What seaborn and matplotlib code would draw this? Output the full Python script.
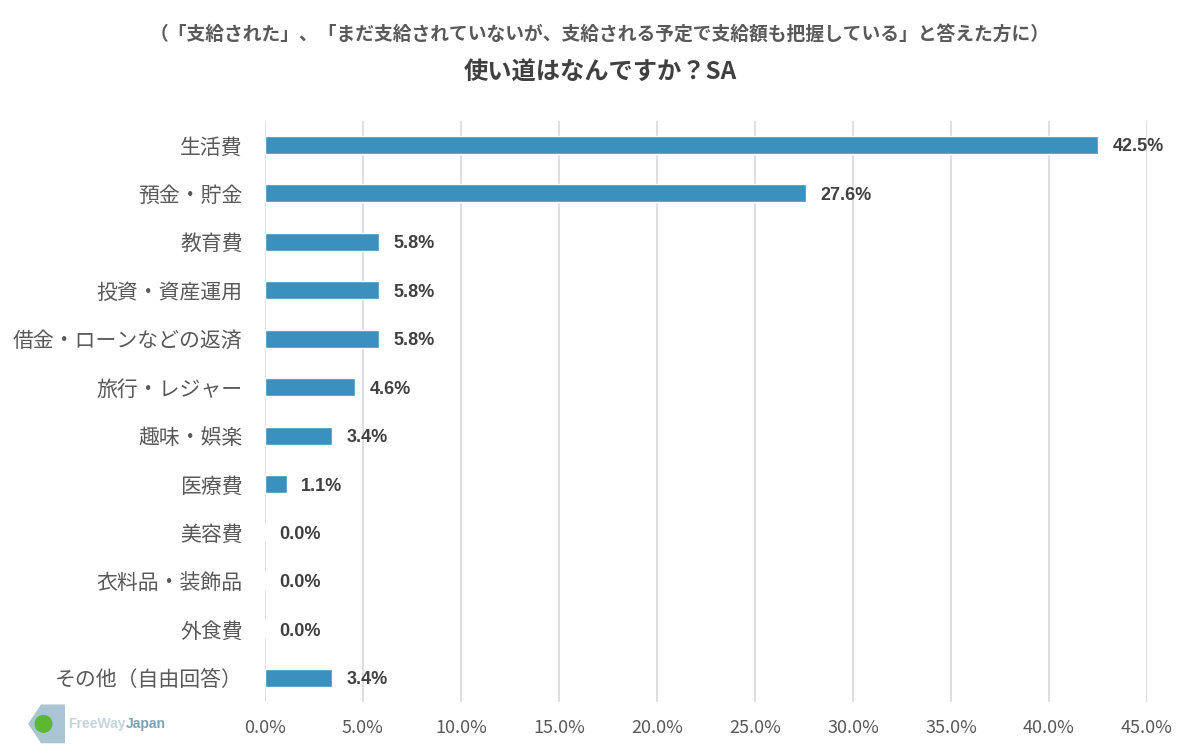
import numpy as np
import pandas as pd
import matplotlib
matplotlib.use("Agg")
import matplotlib.pyplot as plt
import seaborn as sns

categories = ["生活費", "預金・貯金", "教育費", "投資・資産運用", "借金・ローンなどの返済",
              "旅行・レジャー", "趣味・娯楽", "医療費", "美容費", "衣料品・装飾品",
              "外食費", "その他（自由回答）"]
values = [42.5, 27.6, 5.8, 5.8, 5.8, 4.6, 3.4, 1.1, 0.0, 0.0, 0.0, 3.4]
xticks = [0, 5, 10, 15, 20, 25, 30, 35, 40, 45]

subtitle = "（「支給された」、「まだ支給されていないが、支給される予定で支給額も把握している」と答えた方に）"
title = "使い道はなんですか？SA"

sns.set_theme(style="white")
plt.rcParams["font.family"] = ["Noto Sans CJK JP", "DejaVu Sans"]

df = pd.DataFrame({"cat": categories, "val": values})

fig = plt.figure(figsize=(12, 7.56), dpi=100)
ax = fig.add_axes([0.2208, 0.0714, 0.735, 0.769])

sns.barplot(data=df, x="val", y="cat", color="#3a91bd", saturation=1,
            width=0.37, orient="h", ax=ax, zorder=3)

ax.set_xlim(0, 45)
ax.set_xticks(xticks)
ax.set_xticklabels([f"{t:.1f}%" for t in xticks], fontsize=13, color="#595959")
ax.tick_params(axis="y", labelsize=15, labelcolor="#595959", length=0, pad=16)
ax.tick_params(axis="x", length=0, pad=12)
ax.grid(axis="x", color="#d9d9d9", linewidth=1.2, zorder=0)
for s in ax.spines.values():
    s.set_visible(False)
ax.set_xlabel("")
ax.set_ylabel("")

for i, v in enumerate(values):
    ax.text(v + 0.75, i, f"{v:.1f}%", va="center_baseline", ha="left", fontsize=13,
            fontweight="bold", color="#404040",
            family=["Liberation Sans", "DejaVu Sans"])

fig.text(0.5, 0.955, subtitle, ha="center", va="center", fontsize=13.5,
         fontweight="bold", color="#595959")
fig.text(0.5, 0.905, title, ha="center", va="center", fontsize=17.5,
         fontweight="bold", color="#404040")

# logo text
fig.text(0.057, 0.042, "FreeWay", ha="left", va="center", fontsize=10,
         fontweight="bold", color="#c5d3dc", family=["Liberation Sans"])
fig.text(0.1045, 0.042, "Japan", ha="left", va="center", fontsize=10,
         fontweight="bold", color="#7f9fb3", family=["Liberation Sans"])
logo = fig.add_axes([0.018, 0.015, 0.04, 0.055])
logo.add_patch(plt.Polygon([[0.1, 0.5], [0.4, 0.95], [0.95, 0.95], [0.95, 0.05],
                            [0.4, 0.05]], color="#a9c4d3"))
logo.add_patch(plt.Circle((0.45, 0.5), 0.2, color="#5cb82e"))
logo.set_xlim(0, 1)
logo.set_ylim(0, 1)
logo.set_aspect("equal")
logo.axis("off")

fig.savefig("out.png", dpi=100)
